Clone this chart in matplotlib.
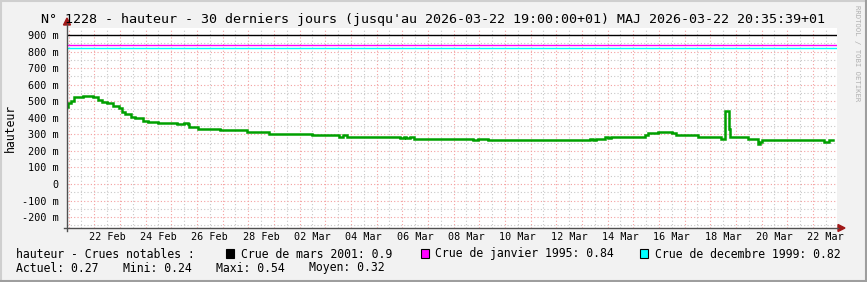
import matplotlib
matplotlib.use("Agg")
import matplotlib.pyplot as plt
from matplotlib.patches import Rectangle, Polygon
from matplotlib.lines import Line2D
from datetime import datetime, timedelta

W, H = 867, 282

# debut de la fenetre affichee (30 jours)
debut = datetime(2026, 2, 20, 22, 30)
duree = 30.0

# changements de palier : jours depuis debut / hauteur (m)
jours = [0.012, 0.051, 0.144, 0.273, 0.611, 1.001, 1.195, 1.351, 1.569, 1.803,
         2.025, 2.130, 2.259, 2.481, 2.648, 2.948, 3.166, 3.532, 4.272, 4.556,
         4.700, 4.762, 5.113, 5.958, 6.998, 7.866, 9.529, 10.592, 10.736, 10.892,
         12.967, 13.123, 13.201, 13.357, 13.524, 15.821, 16.016, 16.406, 20.366, 20.495,
         20.627, 20.950, 21.079, 21.211, 22.508, 22.636, 23.026, 23.571, 23.743, 24.584,
         25.495, 25.651, 25.779, 25.845, 26.530, 26.920, 27.013, 27.091, 29.478, 29.673]
hauteur = [0.467, 0.487, 0.503, 0.527, 0.534, 0.527, 0.507, 0.497, 0.487, 0.471,
           0.457, 0.437, 0.423, 0.406, 0.397, 0.382, 0.376, 0.366, 0.360, 0.366,
           0.360, 0.346, 0.334, 0.326, 0.314, 0.302, 0.296, 0.286, 0.298, 0.286,
           0.276, 0.286, 0.276, 0.286, 0.272, 0.264, 0.274, 0.266, 0.274, 0.268,
           0.274, 0.286, 0.276, 0.286, 0.298, 0.306, 0.316, 0.306, 0.298, 0.286,
           0.274, 0.443, 0.332, 0.286, 0.274, 0.242, 0.256, 0.266, 0.256, 0.266]
fin_donnees = 29.84

crues = ["Crue de mars 2001", "Crue de janvier 1995", "Crue de decembre 1999"]
crues_val = [0.9, 0.84, 0.82]
crues_col = ["#000000", "#ff00ff", "#00ffff"]

stats_noms = ["Actuel", "Mini", "Maxi", "Moyen"]
stats_val = [0.27, 0.24, 0.54, 0.32]

etiquettes = ["22 Feb", "24 Feb", "26 Feb", "28 Feb", "02 Mar", "04 Mar", "06 Mar",
              "08 Mar", "10 Mar", "12 Mar", "14 Mar", "16 Mar", "18 Mar", "20 Mar", "22 Mar"]
graduations_y = [-0.2, -0.1, 0, 0.1, 0.2, 0.3, 0.4, 0.5, 0.6, 0.7, 0.8, 0.9]

titre = ("N° 1228 - hauteur - 30 derniers jours (jusqu'au 2026-03-22 19:00:00+01) "
         "MAJ 2026-03-22 20:35:39+01")

MONO = "DejaVu Sans Mono"


def px(x, y):
    return x / W, 1 - y / H


def offset(d):
    return (d - debut).total_seconds() / 86400.0


fig = plt.figure(figsize=(W / 100, H / 100), dpi=100, facecolor="#f2f2f2")
left, top, right, bottom = 67, 27.7, 837, 228
ax = fig.add_axes([left / W, 1 - bottom / H, (right - left) / W, (bottom - top) / H])
ax.set_facecolor("white")
ax.set_xlim(0, duree)
ax.set_ylim(-0.266, 0.944)
for s in ax.spines.values():
    s.set_visible(False)

# grille
minuit = debut.replace(hour=0, minute=0) + timedelta(days=1)
for k in range(31):
    xm = offset(minuit + timedelta(days=k))
    xn = xm - 0.5
    if 0 < xn < duree:
        ax.axvline(xn, color="#c8c8c8", lw=0.8, ls=(0, (1, 2)), zorder=1)
    if 0 < xm < duree:
        ax.axvline(xm, color="#f4a0a0", lw=0.8, ls=(0, (1, 2)), zorder=1)
for v in range(-5, 19):
    yv = v * 0.05
    if v % 2:
        ax.axhline(yv, color="#c8c8c8", lw=0.8, ls=(0, (1, 2)), zorder=1)
    else:
        ax.axhline(yv, color="#f4a0a0", lw=0.8, ls=(0, (1, 2)), zorder=1)

# crues notables
for val, col in zip(crues_val, crues_col):
    ax.axhline(val, color=col, lw=1.0, zorder=2)

# courbe
ax.step(jours + [fin_donnees], hauteur + [hauteur[-1]], where="post",
        color="#00a000", lw=1.8, zorder=3, solid_joinstyle="miter")

# ticks
pos_x = [offset(datetime.strptime(e + " 2026", "%d %b %Y") + timedelta(hours=12))
         for e in etiquettes]
ax.set_xticks(pos_x)
ax.set_xticklabels(etiquettes, fontfamily=MONO, fontsize=7.3)
ax.set_yticks(graduations_y)
ax.set_yticklabels([("%d m" % round(v * 1000)) if abs(v) > 1e-9 else "0"
                    for v in graduations_y], fontfamily=MONO, fontsize=7.3)
ax.tick_params(axis="both", length=0, pad=3)
ax.tick_params(axis="y", pad=6)

# axes avec fleches
ax_col = "#505050"
arr_col = "#a01818"
fig.add_artist(Line2D(*zip(px(64, bottom), px(838, bottom)), color=ax_col, lw=1.0))
fig.add_artist(Line2D(*zip(px(left, 231), px(left, 24)), color=ax_col, lw=1.0))
fig.add_artist(Polygon([px(838, bottom - 3.5), px(845, bottom), px(838, bottom + 3.5)],
                       closed=True, color=arr_col, transform=fig.transFigure))
fig.add_artist(Polygon([px(left - 3.5, 25), px(left, 18), px(left + 3.5, 25)],
                       closed=True, color=arr_col, transform=fig.transFigure))

# textes
fig.text(*px(433, 19), titre, ha="center", va="center", fontfamily=MONO, fontsize=9.6)
fig.text(*px(10, 128), "hauteur", ha="center", va="center", rotation=90,
         fontfamily=MONO, fontsize=8.3)
fig.text(*px(857, 5), "RRDTOOL / TOBI OETIKER", ha="center", va="top", rotation=-90,
         fontfamily=MONO, fontsize=5.2, color="#b0b0b0")

# legende
y1, y2 = 254, 268
fig.text(*px(16, y1), "hauteur - Crues notables :", ha="left", va="center",
         fontfamily=MONO, fontsize=8.3)
for (xc, xt), nom, val, col in zip([(226, 241), (421, 435), (640, 655)],
                                   crues, crues_val, crues_col):
    x0, y0 = px(xc, 258)
    fig.add_artist(Rectangle((x0, y0), 8 / W, 9 / H, transform=fig.transFigure,
                             facecolor=col, edgecolor="black", lw=0.8))
    fig.text(*px(xt, y1), "%s: %s" % (nom, val), ha="left", va="center",
             fontfamily=MONO, fontsize=8.3)
for xs, nom, val in zip([16, 123, 216, 309], stats_noms, stats_val):
    fig.text(*px(xs, y2), "%s: %.2f" % (nom, val), ha="left", va="center",
             fontfamily=MONO, fontsize=8.3)

# cadre
fig.add_artist(Line2D(*zip(px(0, 0.5), px(W, 0.5)), color="#cfcfcf", lw=1.5))
fig.add_artist(Line2D(*zip(px(0.5, 0), px(0.5, H)), color="#cfcfcf", lw=1.5))
fig.add_artist(Line2D(*zip(px(0, H - 1), px(W, H - 1)), color="#9e9e9e", lw=1.5))
fig.add_artist(Line2D(*zip(px(W - 1, 0), px(W - 1, H)), color="#9e9e9e", lw=1.5))

fig.savefig("out.png", dpi=100, facecolor=fig.get_facecolor())
